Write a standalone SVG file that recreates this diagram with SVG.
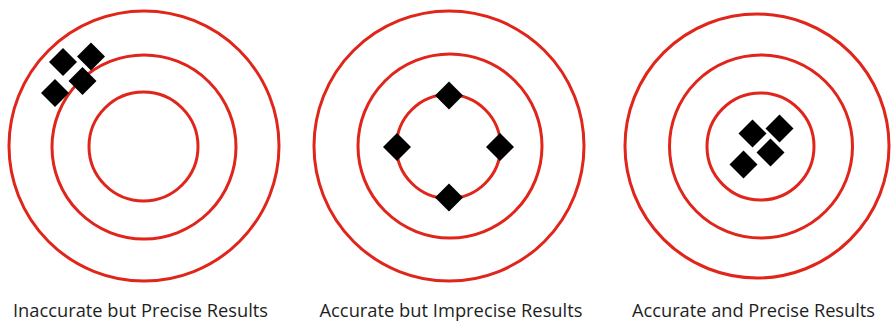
<svg xmlns="http://www.w3.org/2000/svg" width="891" height="322" viewBox="0 0 891 322">
<defs>
<style>
.ring{fill:none;stroke:#e0251b;stroke-width:3}
.dot{fill:#000}
.lbl{font-family:"Open Sans","Liberation Sans",sans-serif;font-size:17.5px;fill:#1e1e1e;text-anchor:middle}
</style>
<polygon id="d" points="0,-14 14,0 0,14 -14,0"/>
</defs>
<rect width="891" height="322" fill="#fff"/>
<g id="target1">
<circle class="ring" cx="144" cy="146" r="135"/>
<circle class="ring" cx="144" cy="147" r="92"/>
<circle class="ring" cx="143.5" cy="146.5" r="54.5"/>
<use href="#d" class="dot" x="63" y="62"/>
<use href="#d" class="dot" x="91" y="56.5"/>
<use href="#d" class="dot" x="82.5" y="81"/>
<use href="#d" class="dot" x="55" y="93"/>
<text class="lbl" x="140.5" y="317" textLength="255" lengthAdjust="spacingAndGlyphs">Inaccurate but Precise Results</text>
</g>
<g id="target2">
<circle class="ring" cx="449" cy="146" r="135"/>
<circle class="ring" cx="450" cy="146" r="92"/>
<circle class="ring" cx="448.5" cy="146.5" r="52"/>
<use href="#d" class="dot" x="449" y="95.5"/>
<use href="#d" class="dot" x="397" y="147"/>
<use href="#d" class="dot" x="500" y="147"/>
<use href="#d" class="dot" x="449" y="197.5"/>
<text class="lbl" x="451" y="317" textLength="263" lengthAdjust="spacingAndGlyphs">Accurate but Imprecise Results</text>
</g>
<g id="target3">
<circle class="ring" cx="757" cy="146" r="132"/>
<circle class="ring" cx="761" cy="146.5" r="91.5"/>
<circle class="ring" cx="760.5" cy="146.5" r="53.5"/>
<use href="#d" class="dot" x="752.5" y="133.5"/>
<use href="#d" class="dot" x="779.5" y="128.5"/>
<use href="#d" class="dot" x="770.5" y="152.5"/>
<use href="#d" class="dot" x="743.5" y="164.5"/>
<text class="lbl" x="753.5" y="317" textLength="243" lengthAdjust="spacingAndGlyphs">Accurate and Precise Results</text>
</g>
<g id="connectors"/>
</svg>
